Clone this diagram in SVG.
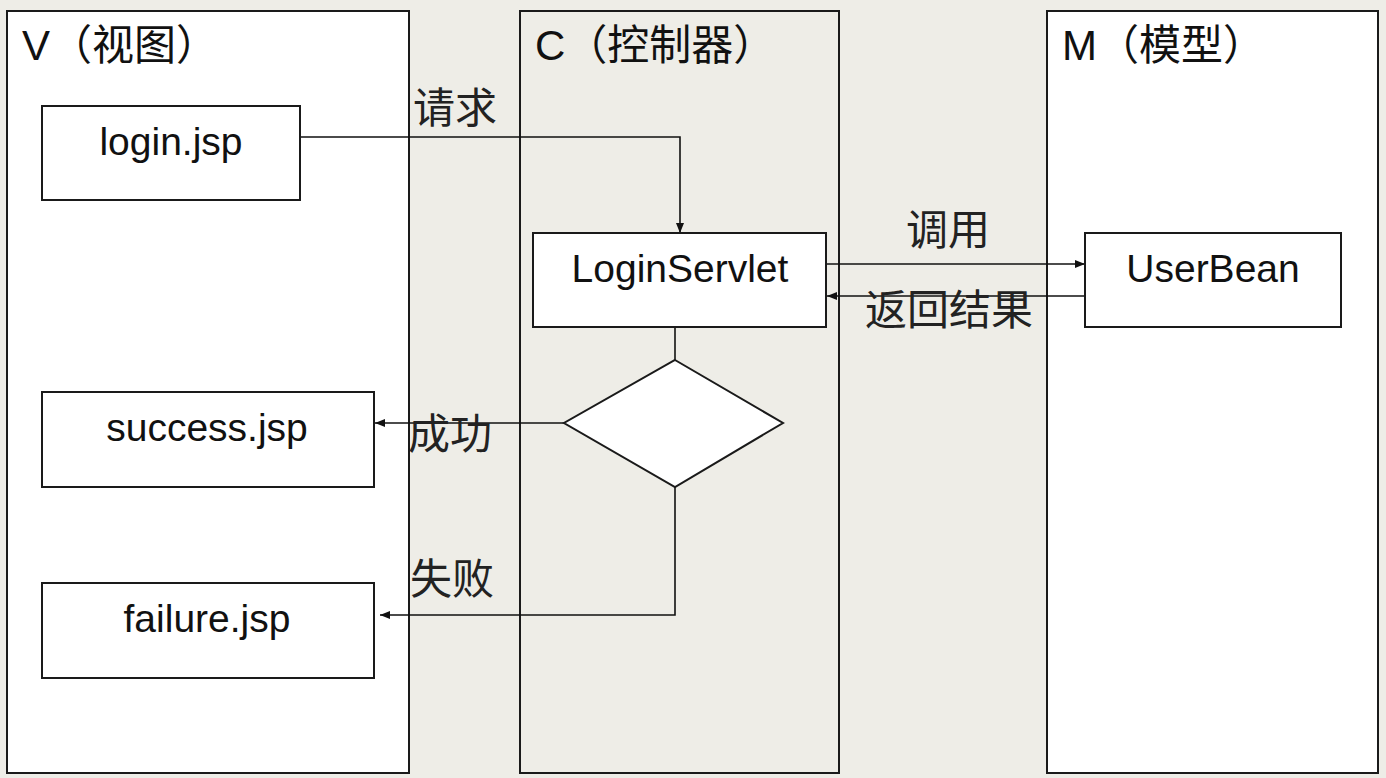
<svg xmlns="http://www.w3.org/2000/svg" width="1386" height="778" viewBox="0 0 1386 778">
<defs>
<marker id="ah" viewBox="0 0 10 10" refX="10" refY="5" markerWidth="10" markerHeight="10" markerUnits="userSpaceOnUse" orient="auto">
<path d="M0,1 L10,5 L0,9 Z" fill="#111"/>
</marker>
<style>
.lane{stroke:#1a1a1a;stroke-width:2}
.box{fill:#fff;stroke:#1a1a1a;stroke-width:2}
.t{font-family:"Liberation Sans","Noto Sans CJK SC",sans-serif;fill:#111}
.title{font-size:42px}
.lbl{font-size:42px;fill:#222}
.nt{font-size:39px;text-anchor:middle}
.conn{fill:none;stroke:#111;stroke-width:1.6}
</style>
</defs>
<rect x="0" y="0" width="1386" height="778" fill="#eeede7"/>
<g id="lane-v">
<rect class="lane" x="7" y="11" width="402" height="762" fill="#fff"/>
<text class="t title" x="22" y="60">V（视图）</text>
</g>
<g id="lane-c">
<rect class="lane" x="520" y="11" width="319" height="762" fill="none"/>
<text class="t title" x="535" y="60">C（控制器）</text>
</g>
<g id="lane-m">
<rect class="lane" x="1047" y="11" width="331" height="762" fill="#fff"/>
<text class="t title" x="1062" y="60">M（模型）</text>
</g>
<g id="connectors">
<path class="conn" d="M300,137 H680 V233" marker-end="url(#ah)"/>
<path class="conn" d="M826,264 H1085" marker-end="url(#ah)"/>
<path class="conn" d="M1085,296 H827" marker-end="url(#ah)"/>
<path class="conn" d="M675,327 V360"/>
<path class="conn" d="M564,423 H375" marker-end="url(#ah)"/>
<path class="conn" d="M675,487 V615 H380" marker-end="url(#ah)"/>
<text class="t lbl" x="413" y="123">请求</text>
<text class="t lbl" x="906" y="245">调用</text>
<text class="t lbl" x="865" y="325">返回结果</text>
<text class="t lbl" x="408" y="449">成功</text>
<text class="t lbl" x="410" y="594">失败</text>
</g>
<g id="node-login">
<rect class="box" x="42" y="106" width="258" height="94"/>
<text class="t nt" x="171" y="155">login.jsp</text>
</g>
<g id="node-servlet">
<rect class="box" x="533" y="233" width="293" height="94"/>
<text class="t nt" x="680" y="282">LoginServlet</text>
</g>
<g id="node-userbean">
<rect class="box" x="1085" y="233" width="256" height="94"/>
<text class="t nt" x="1213" y="282">UserBean</text>
</g>
<g id="node-decision">
<polygon class="box" points="675,360 783,423 675,487 564,423"/>
</g>
<g id="node-success">
<rect class="box" x="42" y="392" width="332" height="95"/>
<text class="t nt" x="207" y="441">success.jsp</text>
</g>
<g id="node-failure">
<rect class="box" x="42" y="583" width="332" height="95"/>
<text class="t nt" x="207" y="632">failure.jsp</text>
</g>
</svg>
